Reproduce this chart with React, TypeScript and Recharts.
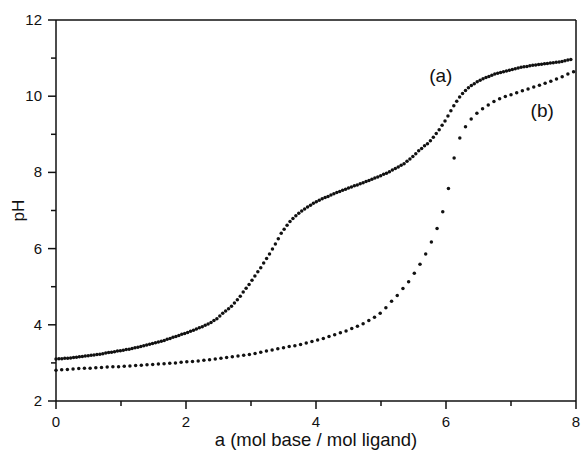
import React from 'react';
import { ScatterChart, Scatter, XAxis, YAxis, ReferenceLine, ReferenceDot, Label } from 'recharts';

// titrant added in equal steps, pH
const STEP_A = 0.045;
const STEP_B = 0.0875;

const phA = [
  3.10, 3.11, 3.11, 3.12, 3.12, 3.13, 3.14, 3.15, 3.16, 3.17,
  3.18, 3.19, 3.20, 3.21, 3.22, 3.23, 3.24, 3.26, 3.27, 3.28,
  3.29, 3.31, 3.32, 3.33, 3.35, 3.36, 3.38, 3.40, 3.41, 3.43,
  3.45, 3.47, 3.49, 3.51, 3.53, 3.55, 3.57, 3.59, 3.62, 3.64,
  3.67, 3.69, 3.72, 3.75, 3.77, 3.80, 3.83, 3.86, 3.89, 3.92,
  3.95, 3.99, 4.02, 4.06, 4.11, 4.16, 4.23, 4.30, 4.36, 4.42,
  4.49, 4.57, 4.66, 4.75, 4.86, 4.96, 5.06, 5.17, 5.28, 5.39,
  5.50, 5.62, 5.74, 5.86, 5.99, 6.12, 6.26, 6.40, 6.51, 6.61,
  6.71, 6.79, 6.86, 6.93, 6.99, 7.04, 7.09, 7.14, 7.19, 7.23,
  7.27, 7.31, 7.34, 7.37, 7.41, 7.44, 7.47, 7.50, 7.53, 7.56,
  7.59, 7.62, 7.65, 7.67, 7.70, 7.73, 7.76, 7.79, 7.82, 7.85,
  7.88, 7.91, 7.95, 7.98, 8.02, 8.06, 8.10, 8.14, 8.19, 8.23,
  8.29, 8.35, 8.42, 8.49, 8.57, 8.63, 8.70, 8.75, 8.83, 8.92,
  9.02, 9.12, 9.24, 9.35, 9.48, 9.62, 9.75, 9.87, 9.98, 10.07,
  10.15, 10.22, 10.28, 10.33, 10.38, 10.42, 10.46, 10.49, 10.52, 10.55,
  10.58, 10.60, 10.62, 10.64, 10.66, 10.68, 10.70, 10.72, 10.74, 10.76,
  10.77, 10.78, 10.80, 10.81, 10.82, 10.83, 10.84, 10.85, 10.86, 10.87,
  10.88, 10.89, 10.90, 10.91, 10.93, 10.95, 10.96,
];

const phB = [
  2.81, 2.82, 2.83, 2.84, 2.85, 2.86, 2.86, 2.87, 2.88, 2.89,
  2.90, 2.90, 2.91, 2.92, 2.93, 2.94, 2.95, 2.96, 2.97, 2.98,
  2.99, 3.00, 3.02, 3.03, 3.04, 3.05, 3.07, 3.08, 3.10, 3.12,
  3.14, 3.16, 3.18, 3.20, 3.22, 3.25, 3.28, 3.31, 3.34, 3.37,
  3.40, 3.43, 3.45, 3.48, 3.52, 3.56, 3.60, 3.64, 3.69, 3.74,
  3.79, 3.84, 3.90, 3.96, 4.03, 4.11, 4.20, 4.30, 4.45, 4.62,
  4.77, 4.95, 5.13, 5.35, 5.59, 5.86, 6.17, 6.53, 6.97, 7.58,
  8.38, 8.90, 9.20, 9.40, 9.55, 9.67, 9.77, 9.86, 9.93, 9.99,
  10.04, 10.09, 10.14, 10.19, 10.24, 10.29, 10.34, 10.39, 10.45, 10.51,
  10.58, 10.64,
];

const xTicks = [0, 1, 2, 3, 4, 5, 6, 7, 8];
const yTicks = [2, 3, 4, 5, 6, 7, 8, 9, 10, 11, 12];

const FONT = '"Liberation Sans", Arial, sans-serif';
const INK = '#111';

const curveA = phA.map((y, i) => ({ x: i * STEP_A, y }));
const curveB = phB.map((y, i) => ({ x: i * STEP_B, y }));

const Dot = (props: any) => <circle cx={props.cx} cy={props.cy} r={1.75} fill={INK} />;

const XTick = (props: any) => {
  const { x, y, payload } = props;
  const major = payload.value % 2 === 0;
  return (
    <g>
      <line x1={x} x2={x} y1={y} y2={y + (major ? 8 : 5)} stroke={INK} strokeWidth={1.5} />
      {major && (
        <text x={x} y={y + 26} textAnchor="middle" fontSize={15} fontFamily={FONT} fill={INK}>
          {payload.value}
        </text>
      )}
    </g>
  );
};

const YTick = (props: any) => {
  const { x, y, payload } = props;
  const major = payload.value % 2 === 0;
  return (
    <g>
      <line x1={x} x2={x - (major ? 8 : 5)} y1={y} y2={y} stroke={INK} strokeWidth={1.5} />
      {major && (
        <text x={x - 14} y={y + 5} textAnchor="end" fontSize={15} fontFamily={FONT} fill={INK}>
          {payload.value}
        </text>
      )}
    </g>
  );
};

export default function App() {
  return (
    <div style={{ position: 'absolute', left: 0, top: 0, background: '#fff' }}>
      <ScatterChart width={581} height={450} margin={{ top: 20, right: 5, bottom: 0, left: 0 }}>
        <XAxis
          type="number"
          dataKey="x"
          domain={[0, 8]}
          ticks={xTicks}
          interval={0}
          height={49}
          tickSize={0}
          tickMargin={0}
          tickLine={false}
          tick={<XTick />}
          axisLine={{ stroke: INK, strokeWidth: 1.5 }}
        >
          <Label
            value="a (mol base / mol ligand)"
            position="insideBottom"
            offset={4}
            style={{ fontSize: 18.5, fontFamily: FONT, fill: INK }}
          />
        </XAxis>
        <YAxis
          type="number"
          dataKey="y"
          domain={[2, 12]}
          ticks={yTicks}
          interval={0}
          width={56}
          tickSize={0}
          tickMargin={0}
          tickLine={false}
          tick={<YTick />}
          axisLine={{ stroke: INK, strokeWidth: 1.5 }}
        >
          <Label
            value="pH"
            angle={-90}
            position="insideLeft"
            offset={18}
            style={{ fontSize: 17, fontFamily: FONT, fill: INK, textAnchor: 'middle' }}
          />
        </YAxis>
        <ReferenceLine y={12} stroke={INK} strokeWidth={1.5} />
        <ReferenceLine x={8} stroke={INK} strokeWidth={1.5} />
        <Scatter data={curveA} shape={<Dot />} isAnimationActive={false} />
        <Scatter data={curveB} shape={<Dot />} isAnimationActive={false} />
        <ReferenceDot x={5.92} y={10.56} r={0} fill="none" stroke="none">
          <Label value="(a)" position="center" style={{ fontSize: 19, fontFamily: FONT, fill: INK }} />
        </ReferenceDot>
        <ReferenceDot x={7.48} y={9.64} r={0} fill="none" stroke="none">
          <Label value="(b)" position="center" style={{ fontSize: 19, fontFamily: FONT, fill: INK }} />
        </ReferenceDot>
      </ScatterChart>
    </div>
  );
}
